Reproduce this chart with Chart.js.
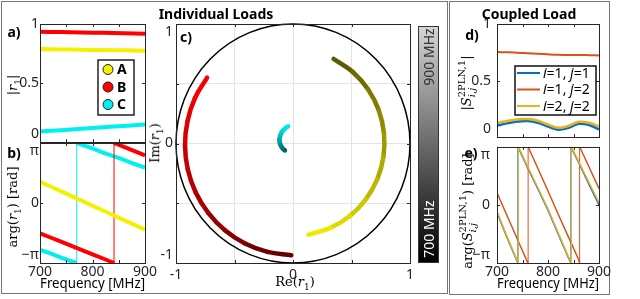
<!DOCTYPE html>
<html>
<head>
<meta charset="utf-8">
<script src="https://cdn.jsdelivr.net/npm/chart.js@4.4.1/dist/chart.umd.min.js"></script>
<style>
  body { margin: 0; background: #fff; }
  #fig { position: relative; width: 640px; height: 299px; overflow: hidden; font-family: "Noto Sans", sans-serif; color: #000; }
  #fig canvas { position: absolute; }
  .frame { position: absolute; border: 1px solid #777; box-sizing: border-box; }
  .txt { position: absolute; transform: translate(-50%, -50%); white-space: nowrap; }
  .rot { position: absolute; transform: translate(-50%, -50%) rotate(-90deg); white-space: nowrap; }
  .bold { font-weight: bold; font-size: 14px; }
  .math { font-family: "DejaVu Serif", serif; font-size: 13px; }
  .math sub { font-size: 9px; }
  .ss { display: inline-block; vertical-align: middle; font-size: 10px; line-height: 10px; text-align: left; }
  .ss span { display: block; }
  #cbar { position: absolute; left: 418px; top: 26px; width: 21px; height: 237px; box-sizing: border-box;
          border: 1px solid #333; background: linear-gradient(to top, #000, #d4d4d4); }
  .cb { font-size: 14px; }
</style>
</head>
<body>
<div id="fig">
  <div class="frame" style="left:1px;top:1px;width:447px;height:293px"></div>
  <div class="frame" style="left:449px;top:1px;width:161px;height:294px"></div>

  <canvas id="cA" width="165" height="160" style="left:0;top:0"></canvas>
  <canvas id="cB" width="165" height="176" style="left:0;top:123px"></canvas>
  <canvas id="cC" width="275" height="299" style="left:150px;top:0"></canvas>
  <canvas id="cD" width="175" height="160" style="left:440px;top:0"></canvas>
  <canvas id="cE" width="175" height="176" style="left:440px;top:123px"></canvas>

  <div id="cbar"></div>
  <div class="rot cb" style="left:428px;top:57px;color:#333">900 MHz</div>
  <div class="rot cb" style="left:428px;top:229px;color:#fff">700 MHz</div>

  <div class="txt bold" style="left:14px;top:31px">a)</div>
  <div class="txt bold" style="left:14px;top:152px">b)</div>
  <div class="txt bold" style="left:186px;top:36px">c)</div>
  <div class="txt bold" style="left:472px;top:34px">d)</div>
  <div class="txt bold" style="left:471px;top:152px">e)</div>
  <div class="txt bold" style="left:216px;top:13px">Individual Loads</div>
  <div class="txt bold" style="left:529px;top:13px">Coupled Load</div>

  <div class="rot math" style="left:14px;top:85px">|<i>r</i><sub>1</sub>|</div>
  <div class="rot math" style="left:14px;top:207px">arg(<i>r</i><sub>1</sub>) [rad]</div>
  <div class="rot math" style="left:156px;top:143px">Im(<i>r</i><sub>1</sub>)</div>
  <div class="txt math" style="left:295px;top:283px">Re(<i>r</i><sub>1</sub>)</div>
  <div class="rot math" style="left:467px;top:83px">|<i>S</i><span class="ss"><span>2PLN,1</span><span><i>i</i>,<i>j</i></span></span>|</div>
  <div class="rot math" style="left:468px;top:211px">arg(<i>S</i><span class="ss"><span>2PLN,1</span><span><i>i</i>,<i>j</i></span></span>) [rad]</div>
</div>

<script>
// frequency grid [MHz]
const freqs = [700, 720, 740, 760, 780, 800, 820, 840, 860, 880, 900];

// individual loads
const loadNames = ['A', 'B', 'C'];
const loadRGB = [[245, 240, 0], [255, 0, 0], [0, 240, 240]];
const magA = [0.788, 0.787, 0.785, 0.784, 0.782, 0.781, 0.780, 0.778, 0.777, 0.775, 0.774];
const magB = [0.935, 0.933, 0.932, 0.930, 0.928, 0.927, 0.925, 0.923, 0.921, 0.920, 0.918];
const magC = [0.090, 0.096, 0.102, 0.108, 0.114, 0.120, 0.126, 0.132, 0.138, 0.144, 0.150];
// phases in units of pi (wrapped)
const argA = [0.355, 0.275, 0.195, 0.115, 0.035, -0.045, -0.125, -0.205, -0.285, -0.365, -0.445];
const argB = [-0.505, -0.575, -0.645, -0.715, -0.785, -0.855, -0.925, -0.995, 0.935, 0.865, 0.795];
const argC = [-0.78, -0.84, -0.91, -0.97, 0.97, 0.91, 0.84, 0.78, 0.72, 0.65, 0.59];
// frequencies where the phase jumps from -pi to pi
const wrapA = [];
const wrapB = [841];
const wrapC = [770];

// coupled load
const pairLabels = ['i=1, j=1', 'i=1, j=2', 'i=2, j=2'];
const pairColors = ['#0072BD', '#D95319', '#EDB120'];
const magS11 = [0.103, 0.122, 0.138, 0.143, 0.127, 0.094, 0.066, 0.082, 0.118, 0.108, 0.070];
const magS12 = [0.752, 0.750, 0.747, 0.742, 0.737, 0.732, 0.728, 0.726, 0.727, 0.725, 0.722];
const magS22 = [0.126, 0.143, 0.157, 0.161, 0.146, 0.112, 0.083, 0.100, 0.136, 0.128, 0.097];
const argS11 = [-0.13, -0.57, -0.98, 0.64, 0.28, -0.09, -0.50, -0.91, 0.73, 0.36, 0.00];
const argS12 = [0.21, -0.19, -0.59, -0.99, 0.63, 0.24, -0.16, -0.55, -0.94, 0.66, 0.28];
const argS22 = [-0.11, -0.55, -0.97, 0.66, 0.30, -0.07, -0.48, -0.89, 0.75, 0.39, 0.04];
const wrapS11 = [741, 845];
const wrapS12 = [761, 862];
const wrapS22 = [742, 846];

Chart.defaults.font.family = 'Noto Sans';
Chart.defaults.animation = false;

const tickFont = { family: 'Noto Sans', size: 14 };
const tickColor = '#262626';
const rgb = c => `rgb(${c.join(',')})`;
const shade = (c, t) => rgb(c.map(v => Math.round(v * (0.35 + 0.65 * t))));

// insert vertical jump at each wrap frequency
function wrapSeries(vals, wraps) {
  const pts = [];
  vals.forEach((v, i) => {
    if (i > 0) wraps.filter(w => w > freqs[i - 1] && w < freqs[i])
      .forEach(w => pts.push({ x: w, y: -1 }, { x: w, y: 1 }));
    pts.push({ x: freqs[i], y: v });
  });
  return pts;
}

// box + inward tick marks, matlab style
const boxTicks = {
  id: 'boxTicks',
  afterDatasetsDraw(chart) {
    const { ctx, chartArea: a, scales: { x, y } } = chart;
    ctx.save();
    ctx.strokeStyle = '#262626';
    ctx.lineWidth = 1;
    ctx.beginPath();
    x.ticks.forEach(t => {
      const px = Math.round(x.getPixelForValue(t.value)) + 0.5;
      ctx.moveTo(px, a.top); ctx.lineTo(px, a.top + 3);
      ctx.moveTo(px, a.bottom); ctx.lineTo(px, a.bottom - 3);
    });
    y.ticks.forEach(t => {
      const py = Math.round(y.getPixelForValue(t.value)) + 0.5;
      ctx.moveTo(a.left, py); ctx.lineTo(a.left + 3, py);
      ctx.moveTo(a.right, py); ctx.lineTo(a.right - 3, py);
    });
    ctx.stroke();
    ctx.strokeRect(Math.round(a.left) + 0.5, Math.round(a.top) + 0.5, Math.round(a.width), Math.round(a.height));
    ctx.restore();
  }
};

function freqAxis(showLabels) {
  return {
    type: 'linear', min: 700, max: 900,
    grid: { display: false, drawTicks: false },
    border: { display: false },
    ticks: {
      display: showLabels, stepSize: 50, autoSkip: false, maxRotation: 0, padding: 1,
      font: tickFont, color: tickColor,
      callback: v => (v % 100 === 0 ? String(v) : '')
    },
    title: {
      display: showLabels, text: 'Frequency [MHz]', color: '#000',
      font: { family: 'Noto Sans', size: 14 }, padding: { top: 0, bottom: 7 }
    },
    afterFit: s => { s.height = showLabels ? 36 : 0; }
  };
}

function magAxis(width, pad) {
  return {
    type: 'linear', min: 0, max: 1,
    grid: { display: false, drawTicks: false },
    border: { display: false },
    ticks: {
      stepSize: 0.5, autoSkip: false, padding: pad, font: tickFont, color: tickColor,
      callback: v => (v === 0 ? ['0', ''] : String(v))
    },
    afterFit: s => { s.width = width; }
  };
}

function phaseAxis(width, pad) {
  return {
    type: 'linear', min: -1, max: 1,
    grid: { display: false, drawTicks: false },
    border: { display: false },
    ticks: {
      stepSize: 1, autoSkip: false, padding: pad, font: tickFont, color: tickColor,
      callback: v => (v === 1 ? ['', 'π'] : v === -1 ? ['−π', ''] : '0')
    },
    afterFit: s => { s.width = width; }
  };
}

function baseOptions(padding, x, y) {
  return {
    responsive: false,
    animation: false,
    layout: { padding, autoPadding: false },
    plugins: { legend: { display: false }, tooltip: { enabled: false } },
    elements: { point: { radius: 0 } },
    scales: { x, y }
  };
}

// legend for panel a
const loadLegend = {
  id: 'loadLegend',
  afterDraw(chart) {
    const ctx = chart.ctx;
    ctx.save();
    ctx.fillStyle = '#fff';
    ctx.strokeStyle = '#222';
    ctx.lineWidth = 1.5;
    ctx.fillRect(98, 60, 36, 55);
    ctx.strokeRect(98, 60, 36, 55);
    chart.data.datasets.forEach((ds, i) => {
      const y = 69.5 + i * 17.5;
      ctx.beginPath();
      ctx.arc(108, y, 5, 0, 2 * Math.PI);
      ctx.fillStyle = ds.borderColor;
      ctx.fill();
      ctx.lineWidth = 1;
      ctx.stroke();
      ctx.fillStyle = '#000';
      ctx.font = 'bold 14px "Noto Sans"';
      ctx.textBaseline = 'middle';
      ctx.fillText(ds.label, 117, y + 1);
    });
    ctx.restore();
  }
};

// legend for panel d, i and j in italic
const pairLegend = {
  id: 'pairLegend',
  afterDraw(chart) {
    const ctx = chart.ctx;
    ctx.save();
    ctx.fillStyle = '#fff';
    ctx.strokeStyle = '#111';
    ctx.lineWidth = 1.5;
    ctx.fillRect(75, 66, 81, 49);
    ctx.strokeRect(75, 66, 81, 49);
    chart.data.datasets.forEach((ds, i) => {
      const y = 73 + i * 16.5;
      ctx.beginPath();
      ctx.moveTo(77, y); ctx.lineTo(100, y);
      ctx.strokeStyle = ds.borderColor;
      ctx.lineWidth = 2;
      ctx.stroke();
      ctx.fillStyle = '#000';
      ctx.textBaseline = 'middle';
      let x = 103;
      ds.label.split(/([ij])/).filter(Boolean).forEach(part => {
        ctx.font = (/^[ij]$/.test(part) ? 'italic ' : '') + '14px "Noto Sans"';
        ctx.fillText(part, x, y + 1);
        x += ctx.measureText(part).width;
      });
    });
    ctx.restore();
  }
};

// unit circle for panel c
const unitCircle = {
  id: 'unitCircle',
  beforeDatasetsDraw(chart) {
    const { ctx, scales: { x, y } } = chart;
    const cx = x.getPixelForValue(0), cy = y.getPixelForValue(0);
    ctx.save();
    ctx.beginPath();
    ctx.ellipse(cx, cy, x.getPixelForValue(1) - cx, cy - y.getPixelForValue(1), 0, 0, 2 * Math.PI);
    ctx.strokeStyle = '#000';
    ctx.lineWidth = 1.5;
    ctx.stroke();
    ctx.restore();
  }
};

const mags = [magA, magB, magC];
const args = [argA, argB, argC];
const wraps = [wrapA, wrapB, wrapC];

// a) magnitude of individual loads
new Chart(document.getElementById('cA'), {
  type: 'line',
  data: {
    datasets: loadNames.map((n, k) => ({
      label: n,
      data: freqs.map((f, i) => ({ x: f, y: mags[k][i] })),
      borderColor: rgb(loadRGB[k]),
      borderWidth: 4,
      tension: 0
    }))
  },
  options: baseOptions({ top: 24, right: 20, bottom: 17, left: 0 }, freqAxis(false), magAxis(40, 1)),
  plugins: [boxTicks, loadLegend]
});

// b) phase of individual loads
new Chart(document.getElementById('cB'), {
  type: 'line',
  data: {
    datasets: loadNames.map((n, k) => ({
      label: n,
      data: wrapSeries(args[k], wraps[k]),
      borderColor: rgb(loadRGB[k]),
      borderWidth: 4,
      tension: 0,
      segment: { borderWidth: c => (c.p0.parsed.x === c.p1.parsed.x ? 1 : 4) }
    }))
  },
  options: baseOptions({ top: 20, right: 20, bottom: 0, left: 0 }, freqAxis(true), phaseAxis(40, 1)),
  plugins: [boxTicks]
});

// c) complex plane, shade follows frequency
const planeAxis = (width, isX) => ({
  type: 'linear', min: -1, max: 1,
  grid: { display: true, color: '#e4e4e4', drawTicks: false },
  border: { display: false },
  ticks: {
    stepSize: 0.5, autoSkip: false, maxRotation: 0, padding: isX ? 4 : 3, font: tickFont, color: tickColor,
    callback: v => {
      if (v === 0) return '0';
      if (Math.abs(v) !== 1) return '';
      if (isX) return String(v);
      return v === 1 ? ['', '1'] : ['-1', ''];
    }
  },
  afterFit: s => { if (isX) s.height = width; else s.width = width; }
});

new Chart(document.getElementById('cC'), {
  type: 'line',
  data: {
    datasets: loadNames.map((n, k) => ({
      label: n,
      data: freqs.map((f, i) => ({
        x: mags[k][i] * Math.cos(Math.PI * args[k][i]),
        y: mags[k][i] * Math.sin(Math.PI * args[k][i])
      })),
      borderColor: rgb(loadRGB[k]),
      borderWidth: 4.5,
      borderCapStyle: 'round',
      tension: 0.4,
      segment: { borderColor: c => shade(loadRGB[k], (c.p0DataIndex + 0.5) / (freqs.length - 1)) }
    }))
  },
  options: baseOptions({ top: 24, right: 15, bottom: 0, left: 0 }, planeAxis(36, true), planeAxis(26, false)),
  plugins: [unitCircle, boxTicks]
});

// d) magnitude of coupled load
const smags = [magS11, magS12, magS22];
const sargs = [argS11, argS12, argS22];
const swraps = [wrapS11, wrapS12, wrapS22];
const drawOrder = [3, 2, 1];

new Chart(document.getElementById('cD'), {
  type: 'line',
  data: {
    datasets: pairLabels.map((n, k) => ({
      label: n,
      data: freqs.map((f, i) => ({ x: f, y: smags[k][i] })),
      borderColor: pairColors[k],
      borderWidth: k === 1 ? 2 : 2.5,
      tension: 0.4,
      order: drawOrder[k]
    }))
  },
  options: baseOptions({ top: 24, right: 16, bottom: 17, left: 0 }, freqAxis(false), magAxis(57, 6)),
  plugins: [boxTicks, pairLegend]
});

// e) phase of coupled load
new Chart(document.getElementById('cE'), {
  type: 'line',
  data: {
    datasets: pairLabels.map((n, k) => ({
      label: n,
      data: wrapSeries(sargs[k], swraps[k]),
      borderColor: pairColors[k],
      borderWidth: 1.5,
      tension: 0,
      order: drawOrder[k],
      segment: { borderWidth: c => (c.p0.parsed.x === c.p1.parsed.x ? 1 : 1.5) }
    }))
  },
  options: baseOptions({ top: 20, right: 16, bottom: 0, left: 0 }, freqAxis(true), phaseAxis(57, 7)),
  plugins: [boxTicks]
});
</script>
</body>
</html>
